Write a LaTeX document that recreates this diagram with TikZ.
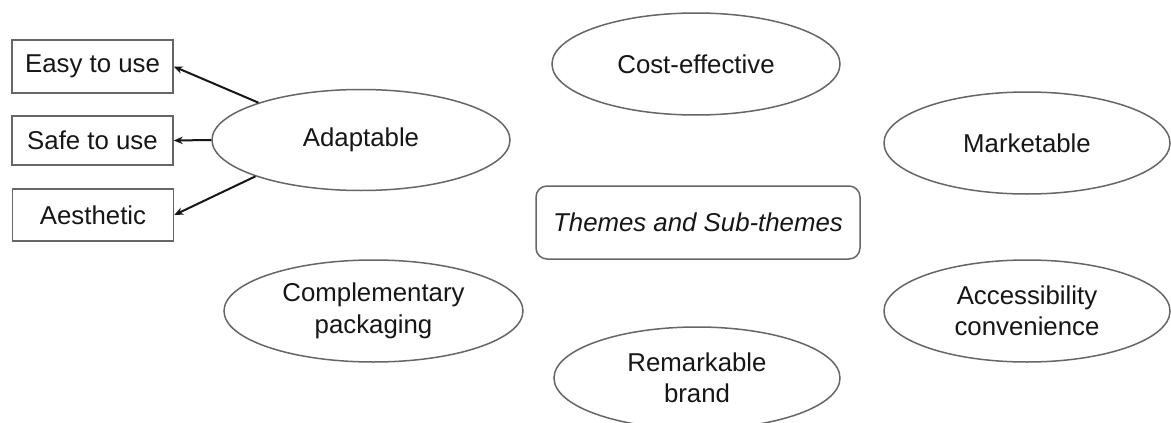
\documentclass[tikz,border=0pt]{standalone}
\usepackage{fontspec}
\setmainfont{Liberation Sans}
\usetikzlibrary{shapes.geometric,arrows.meta}
\definecolor{edge}{HTML}{666666}
\definecolor{ink}{HTML}{161616}
\begin{document}
\begin{tikzpicture}[x=1pt,y=-1pt,
  every node/.style={font=\fontsize{25.8}{31.5}\selectfont, text=ink, align=center, inner sep=0pt},
  theme/.style={ellipse, draw=edge, line width=1.5pt, fill=white},
  subbox/.style={rectangle, draw=edge, line width=1.5pt, fill=white, minimum width=161pt},
  centerbox/.style={rectangle, rounded corners=11pt, draw=edge, line width=1.5pt, fill=white, minimum width=324pt, minimum height=73pt},
  arr/.style={draw=ink, line width=2pt, -{Stealth[length=9pt,width=7.5pt]}}]
\useasboundingbox (0,0) rectangle (1171,423);
\clip (0,0) rectangle (1171,423);
\fill[white] (0,0) rectangle (1171,423);
% sub-theme boxes
\node[subbox, minimum height=53pt] (easy) at (92.5,66.5) {Easy to use};
\node[subbox, minimum height=49pt] (safe) at (92.5,140.5) {Safe to use};
\node[subbox, minimum height=52pt] (aes) at (93,215) {Aesthetic};
% themes
\node[theme, minimum width=298pt, minimum height=101pt] (adapt) at (361,140) {Adaptable};
\node[theme, minimum width=288pt, minimum height=102pt] (cost) at (696,64) {Cost-effective};
\node[theme, minimum width=286pt, minimum height=102pt] (market) at (1027,143) {Marketable};
\node[theme, minimum width=299pt, minimum height=102pt] (comp) at (373.5,311) {Complementary\\packaging};
\node[theme, minimum width=286pt, minimum height=102pt] (access) at (1027,311) {Accessibility\\convenience};
\node[theme, minimum width=286pt, minimum height=102pt] (brand) at (697,378) {Remarkable\\brand};
% center
\node[centerbox] (center) at (698,222.5) {\itshape Themes and Sub-themes};
% arrows
\draw[arr] (adapt.160.8) -- (easy.east);
\draw[arr] (adapt.west) -- (safe.east);
\draw[arr] (adapt.199.2) -- (aes.east);
\end{tikzpicture}
\end{document}
